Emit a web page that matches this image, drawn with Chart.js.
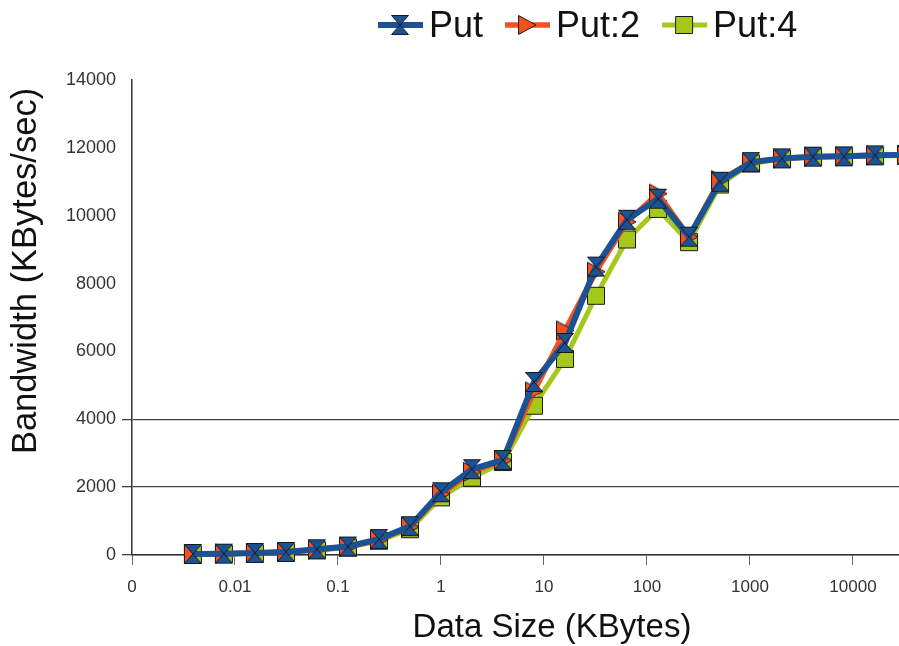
<!DOCTYPE html>
<html>
<head>
<meta charset="utf-8">
<script src="https://cdn.jsdelivr.net/npm/chart.js@4.4.0/dist/chart.umd.min.js"></script>
<style>
  html, body { margin: 0; padding: 0; background: #fff; }
  #wrap { width: 899px; height: 646px; }
</style>
</head>
<body>
<div id="wrap"><canvas id="bw" width="899" height="646"></canvas></div>
<script>
// data size in KBytes (4 B .. 32 MB)
const sizes = [0.0039, 0.0078, 0.0156, 0.0313, 0.0625, 0.125, 0.25, 0.5, 1, 2, 4, 8, 16, 32,
               64, 128, 256, 512, 1024, 2048, 4096, 8192, 16384, 32768];

// bandwidth in KBytes/sec
const put  = [30, 40, 60, 90, 170, 250, 470, 850, 1850, 2530, 2800, 5100, 6250, 8500,
              9880, 10500, 9380, 11000, 11580, 11690, 11740, 11750, 11780, 11790];
const put2 = [30, 40, 60, 90, 160, 240, 450, 830, 1800, 2450, 2790, 4820, 6620, 8350,
              9820, 10650, 9380, 11050, 11570, 11690, 11740, 11750, 11780, 11790];
const put4 = [20, 30, 50, 80, 140, 220, 420, 760, 1700, 2280, 2740, 4400, 5780, 7640,
              9300, 10200, 9220, 10920, 11540, 11670, 11730, 11750, 11770, 11780];

const seriesNames = ['Put', 'Put:2', 'Put:4'];
const xTickValues = [0.001, 0.01, 0.1, 1, 10, 100, 1000, 10000];
const xTickLabels = ['0', '0.01', '0.1', '1', '10', '100', '1000', '10000'];
const yTitle = 'Bandwidth (KBytes/sec)';
const xTitle = 'Data Size (KBytes)';

const BLUE = '#1b5296', RED = '#f4511e', GREEN = '#a6c81a';
const FONT = '"Liberation Sans", Arial, sans-serif';

// marker images
function makeMarker(kind, fill) {
    const c = document.createElement('canvas');
    c.width = 20; c.height = 22;
    const g = c.getContext('2d');
    g.fillStyle = fill;
    g.strokeStyle = '#1a1a1a';
    g.lineWidth = 1;
    g.beginPath();
    if (kind === 'hourglass') {
        g.moveTo(1.5, 1.5); g.lineTo(18.5, 1.5); g.lineTo(1.5, 20.5); g.lineTo(18.5, 20.5);
    } else if (kind === 'triangle') {
        g.moveTo(1.5, 1.5); g.lineTo(19, 11); g.lineTo(1.5, 20.5);
    } else {
        g.rect(1.5, 2.5, 17, 17);
    }
    g.closePath();
    g.fill();
    g.stroke();
    return c;
}
const markers = [makeMarker('hourglass', BLUE), makeMarker('triangle', RED), makeMarker('square', GREEN)];
const colors = [BLUE, RED, GREEN];
const widths = [6, 5.5, 5];

const toPoints = (vals) => sizes.map((s, i) => ({ x: s, y: vals[i] }));

// legend + axis titles drawn by hand
const overlayText = {
    id: 'overlayText',
    afterDraw(chart) {
        const { ctx } = chart;
        ctx.save();
        ctx.fillStyle = '#111';
        ctx.textBaseline = 'middle';

        // legend
        ctx.font = '36px ' + FONT;
        ctx.textAlign = 'left';
        let x = 378;
        const y = 27;
        seriesNames.forEach((name, i) => {
            ctx.strokeStyle = colors[i];
            ctx.lineWidth = widths[i];
            ctx.beginPath();
            ctx.moveTo(x, y - 2);
            ctx.lineTo(x + 45, y - 2);
            ctx.stroke();
            const m = markers[i];
            ctx.drawImage(m, x + 22 - m.width / 2, y - 2 - m.height / 2);
            ctx.fillStyle = '#111';
            ctx.fillText(name, x + 51, y);
            x += 51 + ctx.measureText(name).width + 22;
        });

        // axis titles
        ctx.font = '33px ' + FONT;
        ctx.textAlign = 'center';
        ctx.fillText(xTitle, 552, 628);
        ctx.font = '34.5px ' + FONT;
        ctx.translate(26, 271);
        ctx.rotate(-Math.PI / 2);
        ctx.fillText(yTitle, 0, 0);
        ctx.restore();
    }
};

new Chart(document.getElementById('bw').getContext('2d'), {
    type: 'line',
    plugins: [overlayText],
    data: {
        datasets: [put, put2, put4].map((vals, i) => ({
            label: seriesNames[i],
            data: toPoints(vals),
            borderColor: colors[i],
            backgroundColor: colors[i],
            borderWidth: widths[i],
            pointStyle: markers[i],
            pointRadius: 10,
            pointHoverRadius: 10,
            tension: 0,
            clip: false
        }))
    },
    options: {
        responsive: false,
        animation: false,
        layout: { autoPadding: false, padding: { top: 80, right: 0, left: 0, bottom: 0 } },
        plugins: {
            legend: { display: false },
            tooltip: { enabled: false }
        },
        scales: {
            x: {
                type: 'logarithmic',
                min: 0.001,
                max: 28000,
                afterBuildTicks: (scale) => {
                    scale.ticks = xTickValues.map(v => ({ value: v }));
                },
                afterFit: (scale) => { scale.height = 91; },
                grid: { drawOnChartArea: false, tickLength: 10, color: '#666', lineWidth: 1 },
                border: { color: '#333', width: 1.5 },
                ticks: {
                    autoSkip: false,
                    maxRotation: 0,
                    padding: 12,
                    color: '#333',
                    font: { family: FONT, size: 17 },
                    callback: (v) => {
                        const k = xTickValues.indexOf(v);
                        return k >= 0 ? xTickLabels[k] : '';
                    }
                }
            },
            y: {
                min: 0,
                max: 14000,
                afterFit: (scale) => { scale.width = 132; },
                grid: {
                    tickLength: 10,
                    lineWidth: 1.3,
                    color: (c) => c.tick && c.tick.value <= 4000 ? '#444' : 'rgba(0,0,0,0)'
                },
                border: { color: '#333', width: 1.5 },
                ticks: {
                    stepSize: 2000,
                    padding: 6,
                    color: '#333',
                    font: { family: FONT, size: 18 },
                    callback: (v) => String(v)
                }
            }
        }
    }
});
</script>
</body>
</html>
